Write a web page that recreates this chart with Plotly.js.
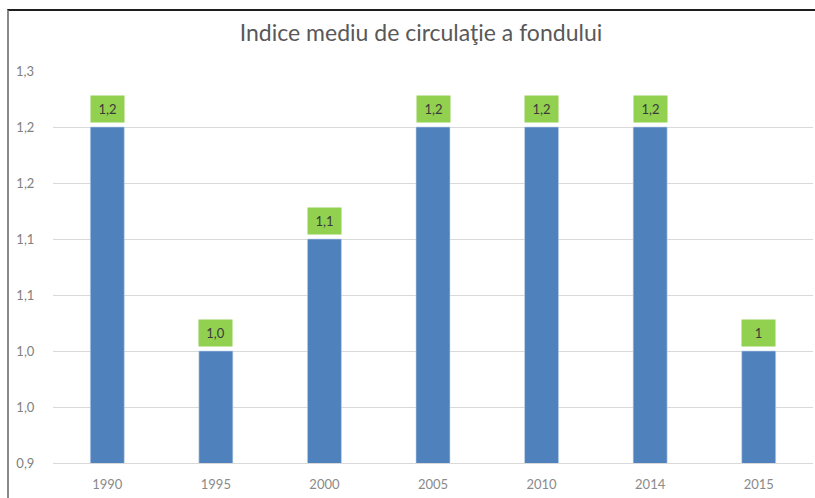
<!DOCTYPE html>
<html>
<head>
<meta charset="utf-8">
<script src="https://cdn.plot.ly/plotly-3.0.1.min.js"></script>
<style>
  html, body { margin: 0; padding: 0; background: #fff; }
  #wrap { position: relative; width: 815px; height: 498px; }
  #chart { width: 815px; height: 498px; }
  #frame { position: absolute; left: 7px; top: 9px; width: 808px; height: 489px;
           border-top: 2px solid #1e1e1e; border-left: 2px solid #8a8a8a; pointer-events: none; }
</style>
</head>
<body>
<div id="wrap">
  <div id="chart"></div>
  <div id="frame"></div>
</div>
<script>
const categories = ['1990', '1995', '2000', '2005', '2010', '2014', '2015'];
const values = [1.2, 1.0, 1.1, 1.2, 1.2, 1.2, 1.0];
const valueLabels = ['1,2', '1,0', '1,1', '1,2', '1,2', '1,2', '1'];
const gridTickVals = [0.9, 0.95, 1.0, 1.05, 1.1, 1.15, 1.2];
const gridTickText = ['0,9', '1,0', '1,0', '1,1', '1,1', '1,2', '1,2'];
const topTickVals = [1.25];
const topTickText = ['1,3'];
const chartTitle = 'Indice mediu de circulaţie a fondului';

const FONT = 'Lato, "Open Sans", sans-serif';

const trace = {
  type: 'bar',
  x: categories,
  y: values,
  marker: { color: '#4F81BD', line: { color: '#c5d5ea', width: 0.6 } },
  hoverinfo: 'x+y'
};

const annotations = categories.map((c, i) => ({
  x: i, y: values[i], xref: 'x', yref: 'y',
  text: valueLabels[i], showarrow: false,
  yanchor: 'bottom', yshift: 4,
  bgcolor: '#92D050', width: 31, height: 24, borderpad: 1,
  font: { family: FONT, size: 13, color: '#3a3a3a' }
})).concat(topTickVals.map((v, i) => ({
  x: 0, xref: 'paper', xanchor: 'right', xshift: -17,
  y: v, yref: 'y', yanchor: 'middle',
  text: topTickText[i], showarrow: false,
  font: { family: FONT, size: 13, color: '#808080' }
})));

const layout = {
  width: 815, height: 498,
  margin: { l: 53, r: 2, t: 71, b: 35 },
  paper_bgcolor: '#ffffff', plot_bgcolor: '#ffffff',
  font: { family: FONT, color: '#808080', size: 13 },
  title: { text: chartTitle, x: 421 / 815, xref: 'container', xanchor: 'center', y: 1 - 33 / 498, yanchor: 'middle', yref: 'container',
           font: { family: FONT, size: 23, color: '#595959' } },
  bargap: 0.687,
  showlegend: false,
  xaxis: {
    type: 'category', range: [-0.5, categories.length - 0.5], autorange: false,
    showgrid: false, zeroline: false,
    showline: true, linecolor: '#d9d9d9', linewidth: 1,
    ticks: 'outside', ticklen: 9, tickcolor: 'rgba(0,0,0,0)',
    tickfont: { family: FONT, size: 13, color: '#8a8a8a' }
  },
  yaxis: {
    range: [0.9, 1.25], autorange: false, tickmode: 'array', tickvals: gridTickVals, ticktext: gridTickText,
    showgrid: true, gridcolor: '#d9d9d9', gridwidth: 1, zeroline: false, showline: false,
    ticks: 'outside', ticklen: 15, tickcolor: 'rgba(0,0,0,0)',
    tickfont: { family: FONT, size: 13, color: '#808080' }
  },
  annotations: annotations
};

Plotly.newPlot('chart', [trace], layout, { displayModeBar: false, staticPlot: true });
</script>
</body>
</html>
